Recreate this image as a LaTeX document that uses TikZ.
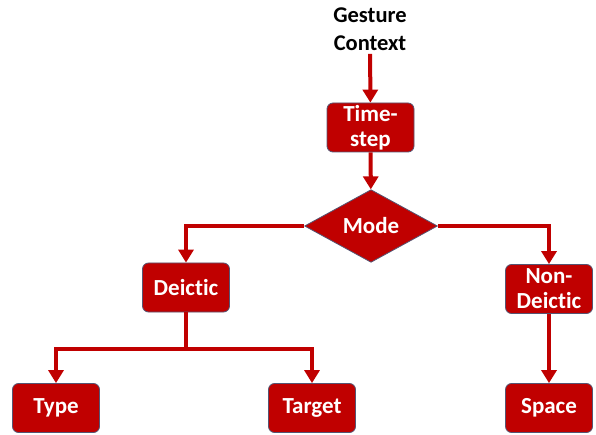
\documentclass[tikz,border=0pt]{standalone}
\usepackage{fontspec}
\setmainfont{Carlito}[Ligatures={NoCommon,NoDiscretionary}]
\usepackage{tikz}
\usetikzlibrary{arrows.meta,shapes,positioning,calc}
\definecolor{boxred}{RGB}{192,0,0}
\definecolor{edgegray}{RGB}{85,85,115}

\begin{document}
\begin{tikzpicture}[
    x=1pt, y=-1pt,
    modebox/.style={rectangle, draw=edgegray, line width=0.8pt, fill=boxred, text=white,
                 minimum width=87pt, minimum height=49pt, inner sep=0pt, align=center,
                 rounded corners=6pt, font=\bfseries\fontsize{23}{25}\selectfont},
    decision/.style={diamond, draw=edgegray, line width=0.8pt, fill=boxred, text=white,
                 minimum width=133pt, minimum height=71pt, inner sep=0pt,
                 font=\bfseries\fontsize{23}{25}\selectfont},
    arr/.style={-{Triangle[width=15pt,length=13pt]}, line width=4pt, boxred},
    link/.style={line width=4pt, boxred}
  ]
    \useasboundingbox (0,0) rectangle (596,435);

    \node[align=center, font=\bfseries\fontsize{22.5}{28}\selectfont] (context) at (370,29) {Gesture\\Context};
    \node[modebox] (timestep) at (370.5,127.5) {Time-\\step};
    \node[decision] (mode) at (371,226) {Mode};
    \node[modebox] (deictic) at (186,287.5) {Deictic};
    \node[modebox] (nondeictic) at (549,289) {Non-\\Deictic};
    \node[modebox] (type) at (56,408) {Type};
    \node[modebox] (target) at (312,408) {Target};
    \node[modebox] (space) at (549,408) {Space};
    \coordinate (split) at (186,349);

    \draw[arr] (context) -- (timestep);
    \draw[arr] (timestep) -- (mode);
    \draw[arr] (mode.west) -| (deictic.north);
    \draw[arr] (mode.east) -| (nondeictic.north);
    \draw[link] (deictic) -- (split);
    \draw[arr] (split) -| (type.north);
    \draw[arr] (split) -| (target.north);
    \draw[arr] (nondeictic) -- (space);
  \end{tikzpicture}
\end{document}
